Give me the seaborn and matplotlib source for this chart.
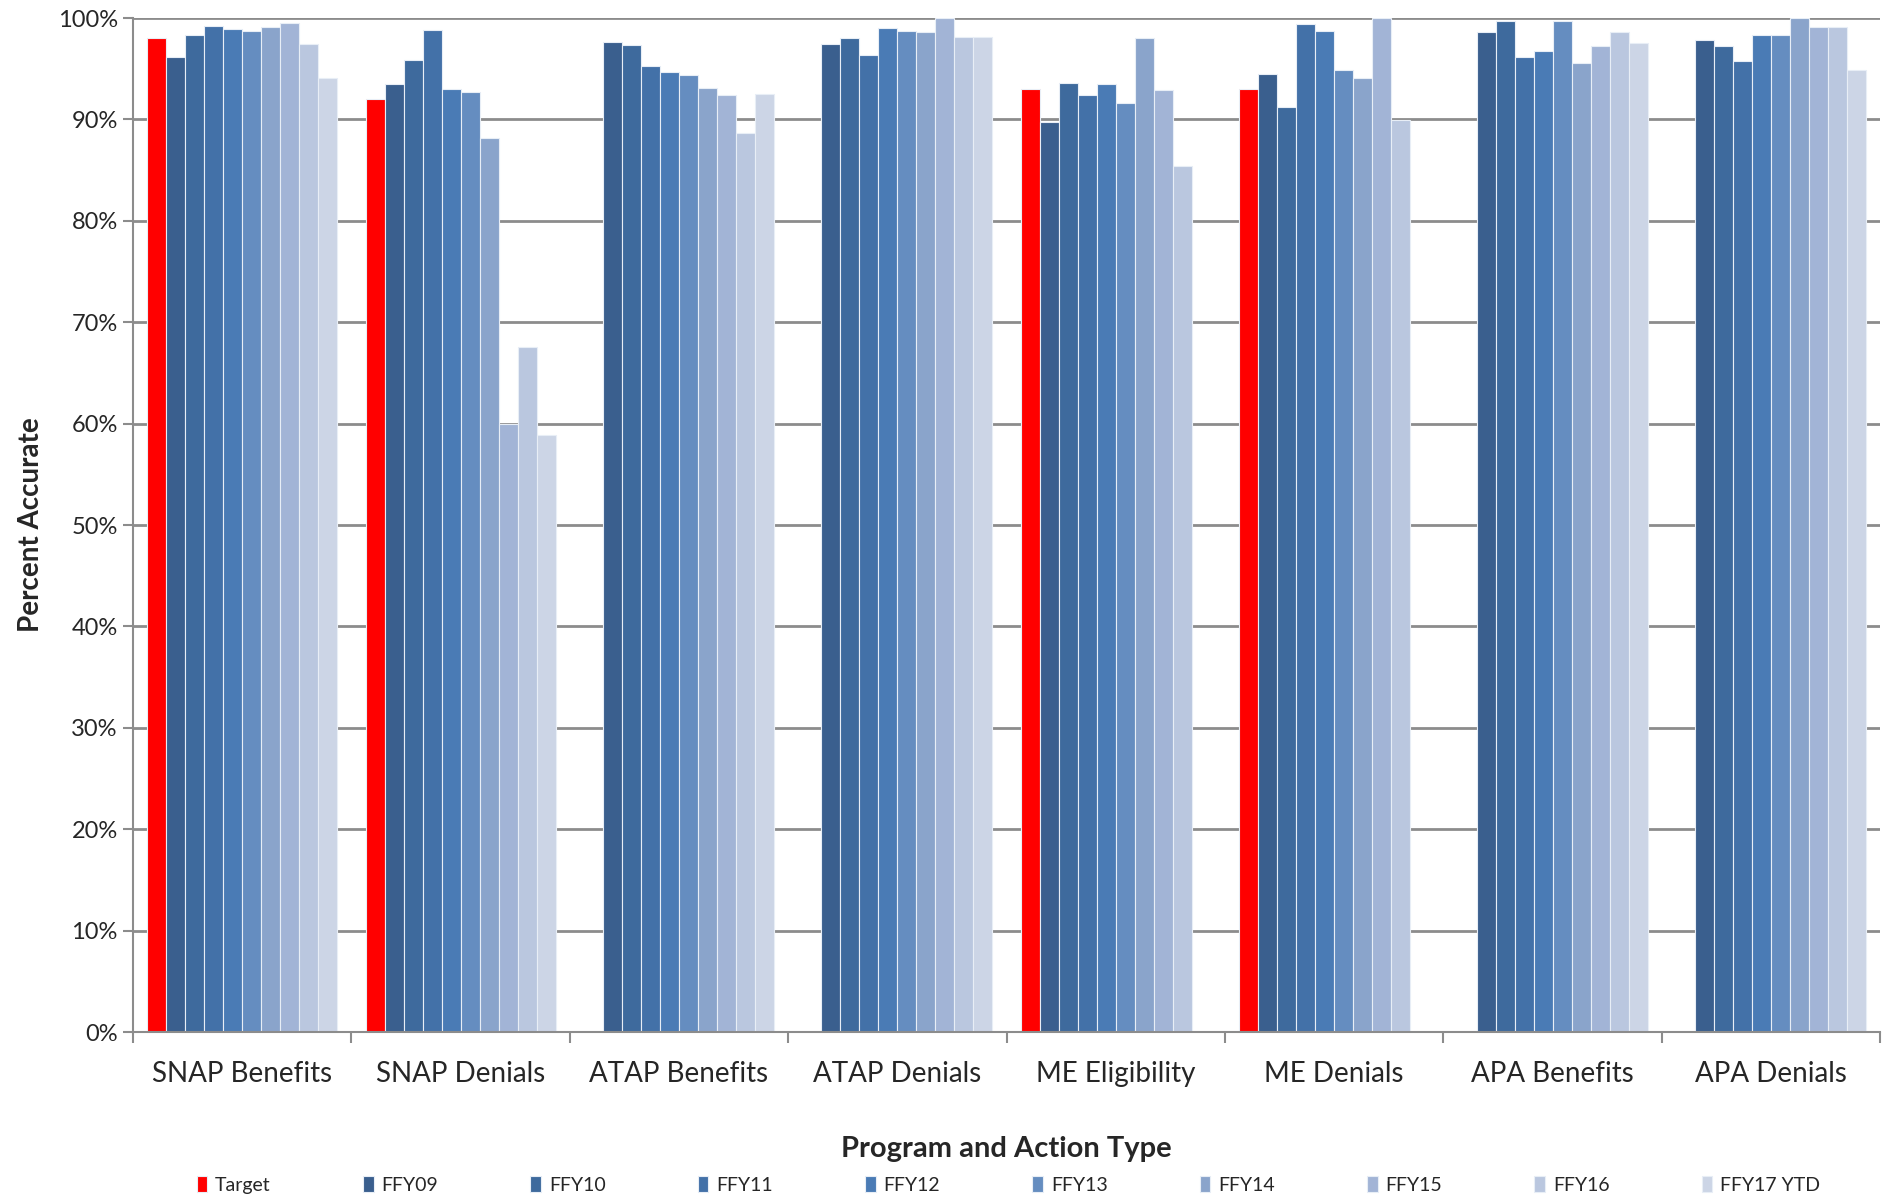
import numpy as np
import pandas as pd
import seaborn as sns
import matplotlib.pyplot as plt
from matplotlib.ticker import FixedLocator, FuncFormatter

categories = ['SNAP Benefits', 'SNAP Denials', 'ATAP Benefits', 'ATAP Denials',
              'ME Eligibility', 'ME Denials', 'APA Benefits', 'APA Denials']
series_names = ['Target', 'FFY09', 'FFY10', 'FFY11', 'FFY12', 'FFY13',
                'FFY14', 'FFY15', 'FFY16', 'FFY17 YTD']

nan = np.nan
target = [98.0, 92.0, nan, nan, 93.0, 93.0, nan, nan]
ffy09 = [96.2, 93.5, 97.6, 97.4, 89.7, 94.5, 98.6, 97.8]
ffy10 = [98.3, 95.9, 97.3, 98.0, 93.6, 91.2, 99.7, 97.2]
ffy11 = [99.2, 98.8, 95.3, 96.4, 92.4, 99.4, 96.2, 95.8]
ffy12 = [98.9, 93.0, 94.7, 99.0, 93.5, 98.7, 96.7, 98.3]
ffy13 = [98.7, 92.7, 94.4, 98.7, 91.6, 94.9, 99.7, 98.3]
ffy14 = [99.1, 88.2, 93.1, 98.6, 98.0, 94.1, 95.6, 100.0]
ffy15 = [99.5, 60.0, 92.4, 100.0, 92.9, 100.0, 97.2, 99.1]
ffy16 = [97.4, 67.6, 88.7, 98.1, 85.4, 89.9, 98.6, 99.1]
ffy17 = [94.1, 58.9, 92.5, 98.1, nan, nan, 97.5, 94.9]

colors = ['#FF0000', '#3A5F8E', '#3E6A9D', '#4371A8', '#4A7BB5', '#658DC0',
          '#8AA4CB', '#A2B4D6', '#BAC7DF', '#CCD5E6']

values = [target, ffy09, ffy10, ffy11, ffy12, ffy13, ffy14, ffy15, ffy16, ffy17]
rows = []
for name, vals in zip(series_names, values):
    for cat, v in zip(categories, vals):
        rows.append({'Category': cat, 'Series': name, 'Value': v})
df = pd.DataFrame(rows)

sns.set_style('white')
plt.rcParams['font.family'] = ['Lato', 'DejaVu Sans']

fig = plt.figure(figsize=(18.92, 12.01), dpi=100)
ax = fig.add_axes([0.0703, 0.1407, 0.9234, 0.8443])

sns.barplot(data=df, x='Category', y='Value', hue='Series', order=categories,
            hue_order=series_names, palette=colors, width=0.87, ax=ax,
            saturation=1, errorbar=None, edgecolor='#E8EEF6', linewidth=0.8)

ax.set_ylim(0, 100)
ax.set_xlim(-0.5, len(categories) - 0.5)
ax.set_axisbelow(True)
ax.yaxis.grid(True, color='#8C8C8C', linewidth=2)
ax.yaxis.set_major_locator(FixedLocator(np.arange(0, 101, 10)))
ax.yaxis.set_major_formatter(FuncFormatter(lambda v, p: f'{v:.0f}%'))
ax.tick_params(axis='y', labelsize=17, length=7, width=1.5, color='#8C8C8C', pad=4, left=True)

ax.xaxis.set_minor_locator(FixedLocator(np.arange(-0.5, len(categories), 1)))
ax.tick_params(axis='x', which='major', length=0, labelsize=20, pad=21)
ax.tick_params(axis='x', which='minor', length=8, width=1.5, color='#8C8C8C', bottom=True)

for side in ['top', 'right']:
    ax.spines[side].set_visible(False)
for side in ['left', 'bottom']:
    ax.spines[side].set_color('#8C8C8C')
    ax.spines[side].set_linewidth(1.5)

ax.set_ylabel('Percent Accurate', fontsize=20, fontweight='bold', labelpad=10)
ax.set_xlabel('Program and Action Type', fontsize=21, fontweight='bold', labelpad=35)

handles, labels = ax.get_legend_handles_labels()
ax.get_legend().remove()
fig.legend(handles, labels, loc='lower center', ncol=10, bbox_to_anchor=(0.533, -0.004),
           frameon=False, fontsize=14, handlelength=0.55, handleheight=0.9,
           handletextpad=0.4, columnspacing=4.74, borderaxespad=0.2)

fig.savefig('out.png', dpi=100)
